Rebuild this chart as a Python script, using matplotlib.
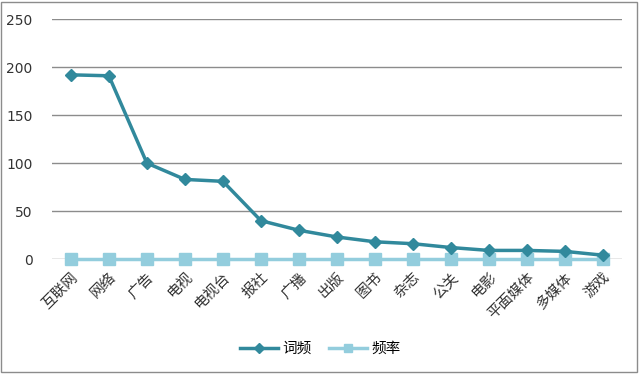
import matplotlib.pyplot as plt
from matplotlib.patches import Rectangle

plt.rcParams['font.family'] = ['Noto Sans CJK SC', 'DejaVu Sans']

categories = ["互联网", "网络", "广告", "电视", "电视台", "报社", "广播", "出版",
              "图书", "杂志", "公关", "电影", "平面媒体", "多媒体", "游戏"]
cipin = [192, 191, 100, 83, 81, 40, 30, 23, 18, 16, 12, 9, 9, 8, 4]
pinlv = [0] * 15

fig = plt.figure(figsize=(6.4, 3.76), dpi=100)
ax = fig.add_axes([0.081, 0.311, 0.891, 0.638])

x = range(len(categories))
ax.plot(x, pinlv, color="#93CDDD", linewidth=2.5, marker="s", markersize=8,
        label="频率", zorder=3, clip_on=False)
ax.plot(x, cipin, color="#31899C", linewidth=2.5, marker="D", markersize=6.5,
        label="词频", zorder=4, clip_on=False)

ax.set_xlim(-0.5, len(categories) - 0.5)
ax.set_ylim(0, 250)
ax.set_yticks([0, 50, 100, 150, 200, 250])
ax.grid(axis="y", color="#8c8c8c", linewidth=1)
ax.set_axisbelow(True)
for s in ax.spines.values():
    s.set_visible(False)
ax.tick_params(length=0, labelsize=10.5, colors="#333333")
ax.tick_params(axis="y", pad=14)
for t in ax.get_yticklabels():
    t.set_family("DejaVu Sans")
    t.set_fontsize(10)
ax.set_xticks(list(x))
ax.set_xticklabels(categories, rotation=45, ha="right", rotation_mode="anchor")
ax.tick_params(axis="x", pad=8)

h, l = ax.get_legend_handles_labels()
ax.legend(h[::-1], l[::-1], loc="center", bbox_to_anchor=(0.5, 1 - 349 / 376),
          bbox_transform=fig.transFigure, ncol=2, frameon=False, fontsize=10.5,
          handlelength=2.6, columnspacing=1.2, handletextpad=0.3, markerscale=0.8)

fig.patches.append(Rectangle((0.002, 0.01), 0.994, 0.985, transform=fig.transFigure,
                             fill=False, edgecolor="#8c8c8c", linewidth=1))

fig.savefig("out.png", dpi=100)
